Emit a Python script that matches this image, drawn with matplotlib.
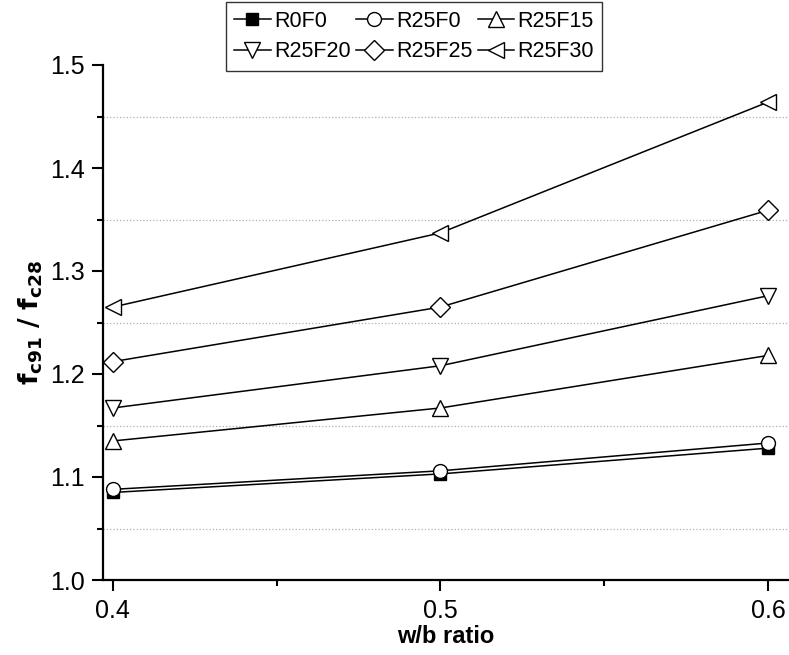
import matplotlib.pyplot as plt
from matplotlib.ticker import MultipleLocator

# values
wb_ratio = [0.4, 0.5, 0.6]
r0f0 = [1.085, 1.103, 1.128]
r25f0 = [1.088, 1.106, 1.133]
r25f15 = [1.135, 1.167, 1.218]
r25f20 = [1.167, 1.208, 1.276]
r25f25 = [1.212, 1.265, 1.359]
r25f30 = [1.265, 1.337, 1.464]

series_names = ['R0F0', 'R25F0', 'R25F15', 'R25F20', 'R25F25', 'R25F30']
series_values = [r0f0, r25f0, r25f15, r25f20, r25f25, r25f30]
series_markers = ['s', 'o', '^', 'v', 'D', '<']
marker_sizes = [8, 10, 11, 11, 10, 11]

fonts = ['Liberation Sans Narrow', 'Liberation Sans', 'DejaVu Sans']
plt.rcParams['font.family'] = fonts
plt.rcParams['mathtext.fontset'] = 'custom'
plt.rcParams['mathtext.bf'] = 'Liberation Sans Narrow:bold'
plt.rcParams['mathtext.rm'] = 'Liberation Sans Narrow'

fig = plt.figure(figsize=(7.89, 6.55), dpi=100)
ax = fig.add_axes([103 / 789, 75 / 655, 686 / 789, 515 / 655])

for name, vals, mk, ms in zip(series_names, series_values, series_markers, marker_sizes):
    face = 'black' if mk == 's' else 'white'
    ax.plot(wb_ratio, vals, color='black', linewidth=1.1, marker=mk, markersize=ms,
            markerfacecolor=face, markeredgecolor='black', markeredgewidth=1.0,
            label=name, clip_on=False)

ax.set_xlim(0.397, 0.6064)
ax.set_ylim(1.0, 1.5)
ax.xaxis.set_major_locator(MultipleLocator(0.1))
ax.xaxis.set_minor_locator(MultipleLocator(0.05))
ax.yaxis.set_major_locator(MultipleLocator(0.1))
ax.yaxis.set_minor_locator(MultipleLocator(0.05))
ax.set_xticks([0.4, 0.5, 0.6])
ax.set_xticklabels(['0.4', '0.5', '0.6'])

ax.spines['top'].set_visible(False)
ax.spines['right'].set_visible(False)
ax.spines['left'].set_linewidth(1.6)
ax.spines['bottom'].set_linewidth(1.6)
ax.tick_params(which='major', direction='out', length=8, width=1.5, labelsize=18)
ax.tick_params(which='minor', direction='out', length=4, width=1.5)
ax.tick_params(axis='x', pad=6)
ax.tick_params(axis='y', pad=5)

ax.yaxis.grid(True, which='minor', linestyle=':', color='#b0b0b0', linewidth=0.9)
ax.set_axisbelow(True)

ax.set_xlabel('w/b ratio', fontsize=17, fontweight='bold', labelpad=1)
ax.set_ylabel(r'$\mathbf{f_{c91}\ /\ f_{c28}}$', fontsize=19, labelpad=4)

# legend reads row by row in the reference
handles, labels = ax.get_legend_handles_labels()
order = [0, 3, 1, 4, 2, 5]
leg = fig.legend([handles[i] for i in order], [labels[i] for i in order],
                 loc='upper center', bbox_to_anchor=(414 / 789, 1 - 2 / 655), ncol=3,
                 fontsize=15.5, frameon=True, fancybox=False, edgecolor='black',
                 handlelength=1.7, handletextpad=0.15, columnspacing=0.25,
                 labelspacing=0.45, borderpad=0.4, borderaxespad=0)
leg.get_frame().set_linewidth(1.0)

fig.savefig('out.png', dpi=100)
